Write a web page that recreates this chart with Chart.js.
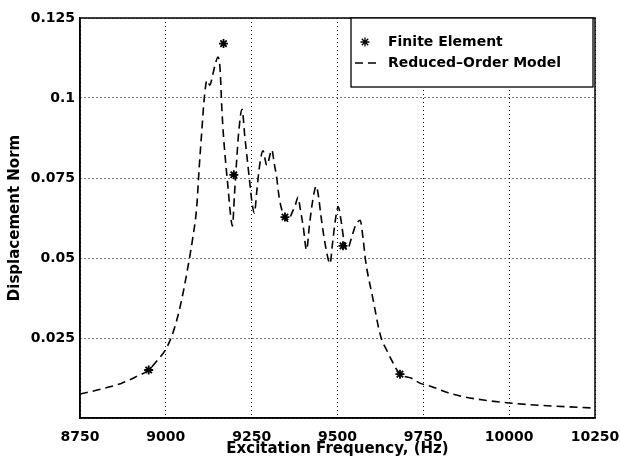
<!DOCTYPE html>
<html>
<head>
<meta charset="utf-8">
<script src="https://cdn.jsdelivr.net/npm/chart.js@4/dist/chart.umd.min.js"></script>
<style>
  html, body { margin: 0; padding: 0; background: #fff; }
  #wrap { width: 620px; height: 456px; }
</style>
</head>
<body>
<div id="wrap"><canvas id="c" width="620" height="456"></canvas></div>
<script>
// Reduced-order model response (excitation frequency in Hz, displacement norm)
const romFreq = [8750, 8780, 8820, 8870, 8915, 8950, 8975, 9000, 9017, 9032, 9046, 9061,
  9078, 9090, 9097, 9105, 9112, 9120, 9128, 9136, 9145, 9152, 9158, 9163, 9168, 9175,
  9182, 9188, 9194, 9200, 9206, 9212, 9222, 9230, 9238, 9245, 9252, 9258, 9265, 9272,
  9283, 9294, 9309, 9315, 9323, 9330, 9338, 9346, 9355, 9367, 9377, 9385, 9392, 9400,
  9410, 9418, 9425, 9432, 9438, 9445, 9452, 9460, 9470, 9478, 9486, 9494, 9502, 9510,
  9518, 9528, 9540, 9552, 9566, 9575, 9582, 9590, 9600, 9609, 9619, 9629, 9643, 9658,
  9680, 9716, 9740, 9775, 9813, 9860, 9920, 10000, 10100, 10250];
const romNorm = [0.0075, 0.0082, 0.0093, 0.0108, 0.0130, 0.0150, 0.0180, 0.0215, 0.0255, 0.0306, 0.0369, 0.0452,
  0.0560, 0.0660, 0.0780, 0.0900, 0.1000, 0.1055, 0.1040, 0.1070, 0.1110, 0.1128, 0.1090, 0.0970, 0.0880, 0.0790,
  0.0710, 0.0640, 0.0600, 0.0700, 0.0800, 0.0890, 0.0965, 0.0880, 0.0800, 0.0730, 0.0665, 0.0640, 0.0710, 0.0780,
  0.0835, 0.0790, 0.0838, 0.0800, 0.0750, 0.0690, 0.0650, 0.0630, 0.0615, 0.0640, 0.0665, 0.0690, 0.0650, 0.0600,
  0.0525, 0.0600, 0.0660, 0.0705, 0.0725, 0.0690, 0.0630, 0.0570, 0.0510, 0.0482, 0.0550, 0.0620, 0.0660, 0.0620,
  0.0560, 0.0525, 0.0560, 0.0600, 0.0618, 0.0556, 0.0490, 0.0440, 0.0390, 0.0340, 0.0285, 0.0244, 0.0213, 0.0180,
  0.0140, 0.0124, 0.0109, 0.0098, 0.0082, 0.0068, 0.0057, 0.0047, 0.0039, 0.0031];

// Finite element solutions
const feFreq = [8950, 9168, 9198, 9347, 9516, 9682];
const feNorm = [0.0150, 0.1170, 0.0760, 0.0628, 0.0538, 0.0137];

// Axis ticks
const xTicks = [8750, 9000, 9250, 9500, 9750, 10000, 10250];
const yTicks = [0, 0.025, 0.05, 0.075, 0.1, 0.125];
const yTickLabels = ['', '0.025', '0.05', '0.075', '0.1', '0.125'];

const seriesLabels = ['Finite Element', 'Reduced\u2013Order Model'];

const FONT = "'DejaVu Sans', 'Liberation Sans', sans-serif";
const INK = '#000';

// Box around the plotting area and a framed legend in its upper right corner
const framePlugin = {
  id: 'frame',
  afterDraw(chart) {
    const { ctx, chartArea: a } = chart;
    ctx.save();
    ctx.strokeStyle = INK;
    ctx.lineWidth = 1.5;
    ctx.setLineDash([]);
    ctx.strokeRect(a.left, a.top, a.right - a.left, a.bottom - a.top);

    // legend
    const w = 242, h = 69;
    const x0 = a.right - 2 - w, y0 = a.top;
    ctx.fillStyle = '#fff';
    ctx.fillRect(x0, y0, w, h);
    ctx.lineWidth = 1.3;
    ctx.strokeRect(x0, y0, w, h);

    const fe = chart.data.datasets[0];
    const rom = chart.data.datasets[1];
    const row1 = y0 + 24, row2 = y0 + 45;
    Chart.helpers.drawPoint(ctx, {
      pointStyle: fe.pointStyle, radius: fe.pointRadius, borderWidth: fe.borderWidth
    }, x0 + 14, row1);
    ctx.strokeStyle = INK;
    ctx.lineWidth = rom.borderWidth;
    ctx.setLineDash(rom.borderDash);
    ctx.beginPath();
    ctx.moveTo(x0 + 4, row2);
    ctx.lineTo(x0 + 30, row2);
    ctx.stroke();
    ctx.setLineDash([]);

    ctx.fillStyle = INK;
    ctx.font = 'bold 14px ' + FONT;
    ctx.textBaseline = 'middle';
    ctx.textAlign = 'left';
    ctx.fillText(fe.label, x0 + 37, row1);
    ctx.fillText(rom.label, x0 + 37, row2);
    ctx.restore();
  }
};

new Chart(document.getElementById('c'), {
  type: 'line',
  data: {
    datasets: [
      {
        label: seriesLabels[0],
        data: feFreq.map((f, i) => ({ x: f, y: feNorm[i] })),
        showLine: false,
        pointStyle: 'star',
        pointRadius: 4.5,
        borderWidth: 1.8,
        borderColor: INK,
        backgroundColor: INK,
        order: 0
      },
      {
        label: seriesLabels[1],
        data: romFreq.map((f, i) => ({ x: f, y: romNorm[i] })),
        borderColor: INK,
        borderWidth: 1.6,
        borderDash: [8, 5],
        pointRadius: 0,
        fill: false,
        cubicInterpolationMode: 'monotone',
        order: 1
      }
    ]
  },
  options: {
    responsive: false,
    animation: false,
    events: [],
    layout: { padding: { top: 18, right: 25, left: 0, bottom: 0 } },
    plugins: {
      legend: { display: false },
      tooltip: { enabled: false }
    },
    scales: {
      x: {
        type: 'linear',
        min: xTicks[0],
        max: xTicks[xTicks.length - 1],
        afterBuildTicks: (s) => { s.ticks = xTicks.map(v => ({ value: v })); },
        afterFit: (s) => { s.height = 38; s.paddingLeft = 0; s.paddingRight = 0; },
        ticks: {
          autoSkip: false,
          maxRotation: 0,
          padding: 11,
          color: INK,
          font: { family: FONT, size: 14, weight: 'bold' },
          callback: (v) => String(v)
        },
        grid: { color: INK, lineWidth: 1, drawTicks: false },
        border: { display: true, color: INK, width: 1.5, dash: [1, 3] },
        title: {
          display: true,
          text: 'Excitation Frequency, (Hz)',
          color: INK,
          font: { family: FONT, size: 15, weight: 'bold', lineHeight: 0.9 },
          padding: { top: 0, bottom: 0 }
        }
      },
      y: {
        type: 'linear',
        min: yTicks[0],
        max: yTicks[yTicks.length - 1],
        afterBuildTicks: (s) => { s.ticks = yTicks.map(v => ({ value: v })); },
        afterFit: (s) => { s.width = 80; s.paddingTop = 0; s.paddingBottom = 0; },
        ticks: {
          autoSkip: false,
          padding: 5,
          color: INK,
          font: { family: FONT, size: 14, weight: 'bold' },
          callback: (v) => { const i = yTicks.indexOf(v); return i >= 0 ? yTickLabels[i] : ''; }
        },
        grid: { color: INK, lineWidth: 1, drawTicks: false },
        border: { display: true, color: INK, width: 1.5, dash: [1, 3] },
        title: {
          display: true,
          text: 'Displacement Norm',
          color: INK,
          font: { family: FONT, size: 15, weight: 'bold', lineHeight: 1.2 },
          padding: { top: 6, bottom: 0 }
        }
      }
    }
  },
  plugins: [framePlugin]
});
</script>
</body>
</html>
